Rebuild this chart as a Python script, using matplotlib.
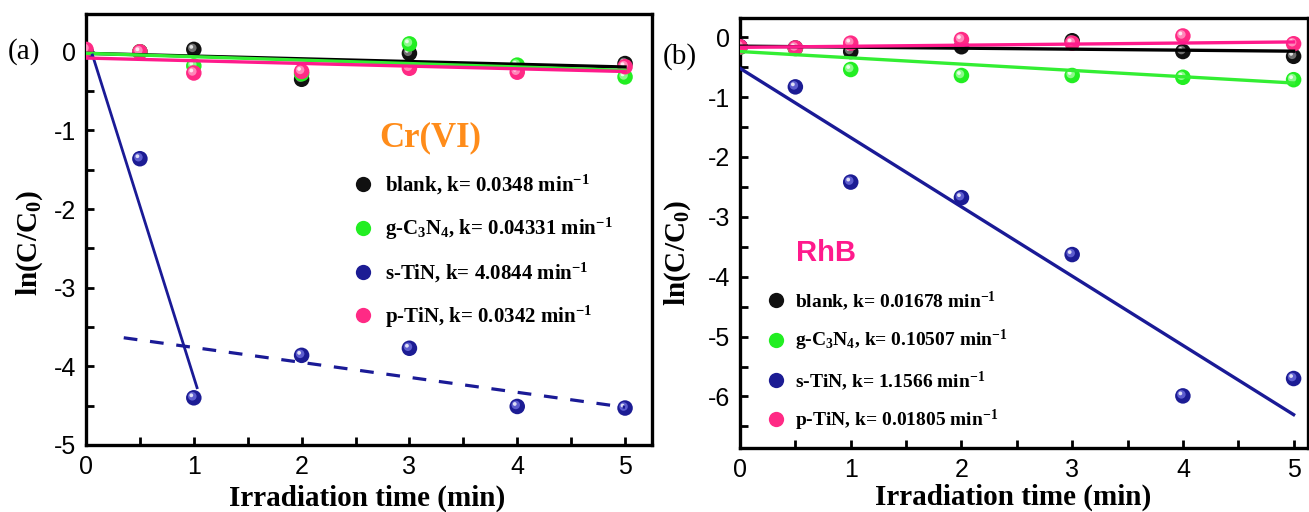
import numpy as np
import matplotlib
matplotlib.use("Agg")
import matplotlib.pyplot as plt
from matplotlib.lines import Line2D
from matplotlib.transforms import offset_copy
from matplotlib.ticker import MultipleLocator

plt.rcParams['font.family'] = ['Liberation Serif', 'DejaVu Serif']
plt.rcParams['mathtext.default'] = 'regular'
plt.rcParams['axes.unicode_minus'] = False

# ---- data ----
t = [0, 0.5, 1, 2, 3, 4, 5]
names = ["blank", "g-C$_3$N$_4$", "s-TiN", "p-TiN"]

# (a) Cr(VI)
cr_y = {
    "blank": [0.0, 0.0, 0.03, -0.35, -0.02, -0.2, -0.15],
    "g-C$_3$N$_4$": [0.0, 0.0, -0.18, -0.28, 0.1, -0.17, -0.32],
    "s-TiN": [0.0, -1.36, -4.40, -3.86, -3.77, -4.51, -4.53],
    "p-TiN": [0.03, 0.0, -0.27, -0.25, -0.21, -0.26, -0.19],
}
cr_k = ["0.0348", "0.04331", "4.0844", "0.0342"]
cr_slope = [-0.0348, -0.04331, -4.36, -0.0342]
cr_icpt = [-0.02, -0.02, 0.22, -0.08]
cr_span = [(0, 5), (0, 5), (0.06, 1.03), (0, 5)]
cr_dash = (-0.19, -3.57, 0.35, 5)   # slope, intercept, x0, x1 of dashed s-TiN line

# (b) RhB
rhb_y = {
    "blank": [-0.16, -0.18, -0.24, -0.16, -0.06, -0.24, -0.32],
    "g-C$_3$N$_4$": [-0.17, -0.19, -0.54, -0.64, -0.64, -0.67, -0.71],
    "s-TiN": [-0.16, -0.83, -2.42, -2.68, -3.63, -5.99, -5.70],
    "p-TiN": [-0.16, -0.18, -0.10, -0.04, -0.10, 0.02, -0.11],
}
rhb_k = ["0.01678", "0.10507", "1.1566", "0.01805"]
rhb_slope = [-0.01678, -0.10507, -1.1566, 0.01805]
rhb_icpt = [-0.15, -0.24, -0.52, -0.17]

dot_col = ["#111111", "#22ee22", "#1c1c94", "#ff2a85"]
dot_light = ["#999999", "#b8ffb8", "#7a7ae8", "#ffb0d0"]
line_col = ["#000000", "#33ee33", "#1a1a96", "#ff1a8c"]

sans_narrow = ['Liberation Sans Narrow', 'Liberation Sans', 'DejaVu Sans']


def sphere(ax, x, y, c, light, s=125):
    ax.scatter(x, y, s=s, color=c, edgecolors='none', zorder=3)
    off = offset_copy(ax.transData, fig=ax.figure, x=-1.5, y=1.5, units='dots')
    ax.scatter(x, y, s=s * 0.3, color=light, alpha=0.7, edgecolors='none',
               transform=off, zorder=3)
    off2 = offset_copy(ax.transData, fig=ax.figure, x=-2.5, y=2.5, units='dots')
    ax.scatter(x, y, s=s * 0.06, color='white', alpha=0.8, edgecolors='none',
               transform=off2, zorder=3)


def style(ax, xmax, ymin, ymax):
    ax.set_xlim(0, xmax)
    ax.set_ylim(ymin, ymax)
    ax.xaxis.set_major_locator(MultipleLocator(1))
    ax.xaxis.set_minor_locator(MultipleLocator(0.5))
    ax.yaxis.set_major_locator(MultipleLocator(1))
    ax.yaxis.set_minor_locator(MultipleLocator(0.5))
    ax.tick_params(which='both', direction='in', top=False, right=False,
                   width=2, length=6)
    ax.tick_params(which='major', labelsize=18, pad=7, labelfontfamily=sans_narrow)
    for sp in ax.spines.values():
        sp.set_linewidth(2.4)


fig = plt.figure(figsize=(13.09, 5.12), dpi=100)
axA = fig.add_axes([86 / 1309, 1 - 445 / 512, 566 / 1309, 431 / 512])
axB = fig.add_axes([740 / 1309, 1 - 448 / 512, 568 / 1309, 430 / 512])

# ---- panel (a) ----
for i, n in enumerate(names):
    sphere(axA, t, cr_y[n], dot_col[i], dot_light[i])
for i, n in enumerate(names):
    x0, x1 = cr_span[i]
    xx = np.array([x0, x1])
    axA.plot(xx, cr_icpt[i] + cr_slope[i] * xx, color=line_col[i],
             lw=2.0 if i == 2 else 2.4, zorder=4)
xx = np.array(cr_dash[2:])
axA.plot(xx, cr_dash[1] + cr_dash[0] * xx, color=line_col[2], lw=2.3,
         ls=(0, (4.3, 4)), zorder=4)
style(axA, 5.25, -5, 0.48)

# ---- panel (b) ----
for i, n in enumerate(names):
    sphere(axB, t, rhb_y[n], dot_col[i], dot_light[i])
for i, n in enumerate(names):
    xx = np.array([0, 5])
    axB.plot(xx, rhb_icpt[i] + rhb_slope[i] * xx, color=line_col[i], lw=2.4, zorder=4)
style(axB, 5.13, -6.86, 0.32)

# ---- legends ----
def handles():
    return [Line2D([], [], ls='none', marker='o', markersize=11,
                   markerfacecolor=c, markeredgecolor='none') for c in dot_col]

labA = ["%s, k= %s min$^{-1}$" % (n, k) for n, k in zip(names, cr_k)]
axA.legend(handles(), labA, loc='center left', bbox_to_anchor=(0.471, 0.449),
           frameon=False, borderpad=0, borderaxespad=0, handlelength=1.0,
           handletextpad=0.56, labelspacing=0.9,
           prop={'family': ['Liberation Serif'], 'weight': 'bold', 'size': 15})

labB = ["%s, k= %s min$^{-1}$" % (n, k) for n, k in zip(names, rhb_k)]
axB.legend(handles(), labB, loc='center left', bbox_to_anchor=(0.046, 0.202),
           frameon=False, borderpad=0, borderaxespad=0, handlelength=1.0,
           handletextpad=0.48, labelspacing=0.79,
           prop={'family': ['Liberation Serif'], 'weight': 'bold', 'size': 14})

# ---- texts ----
axA.text(0.608, 0.712, "Cr(VI)", transform=axA.transAxes, ha='center', va='center',
         color='#ff8c1a', fontsize=25, fontweight='bold')
axB.text(0.152, 0.453, "RhB", transform=axB.transAxes, ha='center', va='center',
         color='#ff1a8c', fontsize=21, fontweight='bold',
         family=['Liberation Sans', 'DejaVu Sans'])

for ax, xc, yc, xl, yl in [(axA, -0.099, 0.469, 0.496, -0.123),
                           (axB, -0.109, 0.453, 0.48, -0.114)]:
    ax.text(xc, yc, "ln(C/C$_0$)", transform=ax.transAxes, rotation=90,
            ha='center', va='center', fontsize=21, fontweight='bold')
    ax.text(xl, yl, "Irradiation time (min)", transform=ax.transAxes,
            ha='center', va='center', fontsize=21, fontweight='bold')

fig.text(8 / 1309, 1 - 52 / 512, "(a)", ha='left', va='center', fontsize=21)
fig.text(663 / 1309, 1 - 57 / 512, "(b)", ha='left', va='center', fontsize=21)

fig.savefig("out.png", dpi=100)
